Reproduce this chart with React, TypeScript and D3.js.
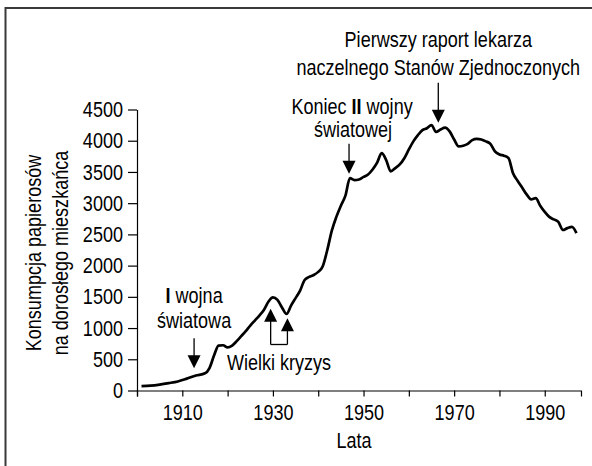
import React, { useEffect, useRef } from 'react';
import * as d3 from 'd3';

// Konsumpcja papierosów na dorosłego mieszkańca (odczyt z wykresu)
const years = [
  1901, 1903, 1905, 1907, 1909, 1911, 1913, 1915, 1916, 1917, 1918, 1919, 1920,
  1921, 1922, 1923, 1924, 1925, 1926, 1927, 1928, 1929, 1930, 1931, 1932, 1933,
  1934, 1935, 1936, 1937, 1938, 1939, 1940, 1941, 1942, 1943, 1944, 1945, 1946,
  1947, 1948, 1949, 1950, 1951, 1952, 1953, 1954, 1955, 1956, 1957, 1958, 1959,
  1960, 1961, 1962, 1963, 1964, 1965, 1966, 1967, 1968, 1969, 1970, 1971, 1972,
  1973, 1974, 1975, 1976, 1977, 1978, 1979, 1980, 1981, 1982, 1983, 1984, 1985,
  1986, 1987, 1988, 1989, 1990, 1991, 1992, 1993, 1994, 1995, 1996, 1997,
];
const consumption = [
  70, 78, 95, 118, 145, 190, 240, 275, 360, 560, 720, 725, 690,
  720, 790, 870, 950, 1040, 1120, 1200, 1290, 1420, 1490, 1450, 1330, 1225,
  1360, 1480, 1600, 1770, 1820, 1850, 1900, 1990, 2250, 2560, 2780, 2960, 3120,
  3400, 3370, 3380, 3420, 3460, 3540, 3650, 3800, 3690, 3510, 3560, 3620, 3720,
  3860, 3990, 4090, 4170, 4200, 4250, 4140, 4180, 4210, 4150, 4020, 3910, 3920,
  3950, 4010, 4030, 4020, 3990, 3950, 3830, 3780, 3760, 3720, 3480, 3360, 3250,
  3140, 3060, 3080, 2960, 2860, 2780, 2740, 2700, 2570, 2600, 2620, 2520,
];

const yTicks = [0, 500, 1000, 1500, 2000, 2500, 3000, 3500, 4000, 4500];
const xTicks = [1900, 1910, 1920, 1930, 1940, 1950, 1960, 1970, 1980, 1990];
const xLabelled = [1910, 1930, 1950, 1970, 1990];

// lata, na które wskazują strzałki
const wwOneYear = 1912.6;
const wwTwoEndYear = 1946.8;
const reportYear = 1966.5;
const crisisYears = [1929.5, 1933.2];

const FONT = '"Liberation Sans", Arial, sans-serif';
const SQUEEZE = 0.82; // condensed look

export default function App() {
  const svgRef = useRef<SVGSVGElement>(null);
  const width = 592;
  const height = 466;

  useEffect(() => {
    if (!svgRef.current) return;
    const svg = d3.select(svgRef.current);
    svg.selectAll('*').remove();

    const x = d3.scaleLinear().domain([1900, 1998]).range([137, 581]);
    const y = d3.scaleLinear().domain([0, 4500]).range([390.5, 109.5]);
    const data = years.map((yr, i) => ({ yr, v: consumption[i] }));
    const valueAt = (yr: number) => {
      const i = d3.bisector((d: any) => d.yr).left(data, yr);
      const a = data[Math.max(0, i - 1)], b = data[Math.min(data.length - 1, i)];
      if (a.yr === b.yr) return a.v;
      return a.v + (b.v - a.v) * (yr - a.yr) / (b.yr - a.yr);
    };

    // frame (only top and left edges are inside the picture)
    svg.append('rect')
      .attr('x', 5.5).attr('y', 8).attr('width', 700).attr('height', 600)
      .attr('fill', 'none').attr('stroke', '#3a3a3a').attr('stroke-width', 2);

    // axes
    const yAxis = d3.axisLeft(y).tickValues(yTicks).tickSize(9).tickSizeOuter(0).tickPadding(6)
      .tickFormat(d3.format('d') as any);
    const gy = svg.append('g').attr('transform', `translate(${x(1900)},0)`).call(yAxis);
    const xAxis = d3.axisBottom(x).tickValues(xTicks).tickSize(6).tickSizeOuter(6).tickPadding(8)
      .tickFormat((d: any) => (xLabelled.includes(d) ? String(d) : ''));
    const gx = svg.append('g').attr('transform', `translate(0,${y(0)})`).call(xAxis);
    [gx, gy].forEach(g => {
      g.selectAll('path, line').attr('stroke', '#000').attr('stroke-width', 1.2);
      g.selectAll('text').attr('fill', '#000')
        .style('font-family', FONT).style('font-size', '22px');
    });
    gy.selectAll('text').attr('x', null).attr('transform', `translate(-14,0) scale(${SQUEEZE},1)`);
    gx.selectAll('text').attr('transform', `scale(${SQUEEZE},1)`);

    const txt = (parent: any, cx: number, by: number, parts: [string, string][], rotate = false) => {
      const t = parent.append('text')
        .attr('transform', `translate(${cx},${by})${rotate ? ' rotate(-90)' : ''} scale(${SQUEEZE},1)`)
        .attr('text-anchor', 'middle')
        .style('font-family', FONT).style('font-size', '22px');
      parts.forEach(([b, r]) => {
        if (b) t.append('tspan').attr('font-weight', 'bold').text(b);
        if (r) t.append('tspan').text(r);
      });
      return t;
    };

    // axis titles
    txt(svg, 354, 448, [['', 'Lata']]);
    txt(svg, 41, 253, [['', 'Konsumpcja papierosów']], true);
    txt(svg, 68, 253, [['', 'na dorosłego mieszkańca']], true);

    // series
    const line = d3.line<any>()
      .x(d => x(d.yr))
      .y(d => y(d.v))
      .curve(d3.curveMonotoneX);
    svg.append('path')
      .datum(data)
      .attr('fill', 'none')
      .attr('stroke', '#000')
      .attr('stroke-width', 2.7)
      .attr('stroke-linejoin', 'round')
      .attr('d', line);

    const ann = svg.append('g');
    const head = 13;
    const downArrow = (yr: number, rise: number) => {
      const ax = x(yr);
      const tip = y(valueAt(yr)) - 8;
      ann.append('line').attr('x1', ax).attr('x2', ax).attr('y1', tip - rise).attr('y2', tip - head + 1)
        .attr('stroke', '#000').attr('stroke-width', 1.3);
      ann.append('path')
        .attr('d', `M${ax - 6.5},${tip - head}L${ax + 6.5},${tip - head}L${ax},${tip}Z`)
        .attr('fill', '#000');
      return { ax, tip };
    };
    const upArrow = (yr: number, gap: number, bottom: number) => {
      const ax = x(yr);
      const tip = y(valueAt(yr)) + gap;
      ann.append('line').attr('x1', ax).attr('x2', ax).attr('y1', tip + head - 1).attr('y2', bottom)
        .attr('stroke', '#000').attr('stroke-width', 1.3);
      ann.append('path')
        .attr('d', `M${ax - 6.5},${tip + head}L${ax + 6.5},${tip + head}L${ax},${tip}Z`)
        .attr('fill', '#000');
      return ax;
    };

    // I wojna światowa
    const a1 = downArrow(wwOneYear, 30);
    txt(ann, a1.ax, a1.tip - 65, [['I', ' wojna']]);
    txt(ann, a1.ax, a1.tip - 40, [['', 'światowa']]);

    // Koniec II wojny światowej
    const a2 = downArrow(wwTwoEndYear, 30);
    txt(ann, a2.ax + 3, a2.tip - 60, [['', 'Koniec '], ['II', ' wojny']]);
    txt(ann, a2.ax + 4, a2.tip - 37, [['', 'światowej']]);

    // Pierwszy raport lekarza naczelnego
    const a3 = downArrow(reportYear, 40);
    txt(ann, a3.ax, a3.tip - 76, [['', 'Pierwszy raport lekarza']]);
    txt(ann, a3.ax, a3.tip - 48, [['', 'naczelnego Stanów Zjednoczonych']]);

    // Wielki kryzys
    const bottom = 344.5;
    const l = upArrow(crisisYears[0], 9, bottom);
    const r = upArrow(crisisYears[1], 6, bottom);
    ann.append('line').attr('x1', l).attr('x2', r).attr('y1', bottom).attr('y2', bottom)
      .attr('stroke', '#000').attr('stroke-width', 1.3);
    txt(ann, 279, 370, [['', 'Wielki kryzys']]);
  }, []);

  return (
    <svg
      ref={svgRef}
      width={width}
      height={height}
      style={{ position: 'absolute', left: 0, top: 0, background: '#fff' }}
    />
  );
}
